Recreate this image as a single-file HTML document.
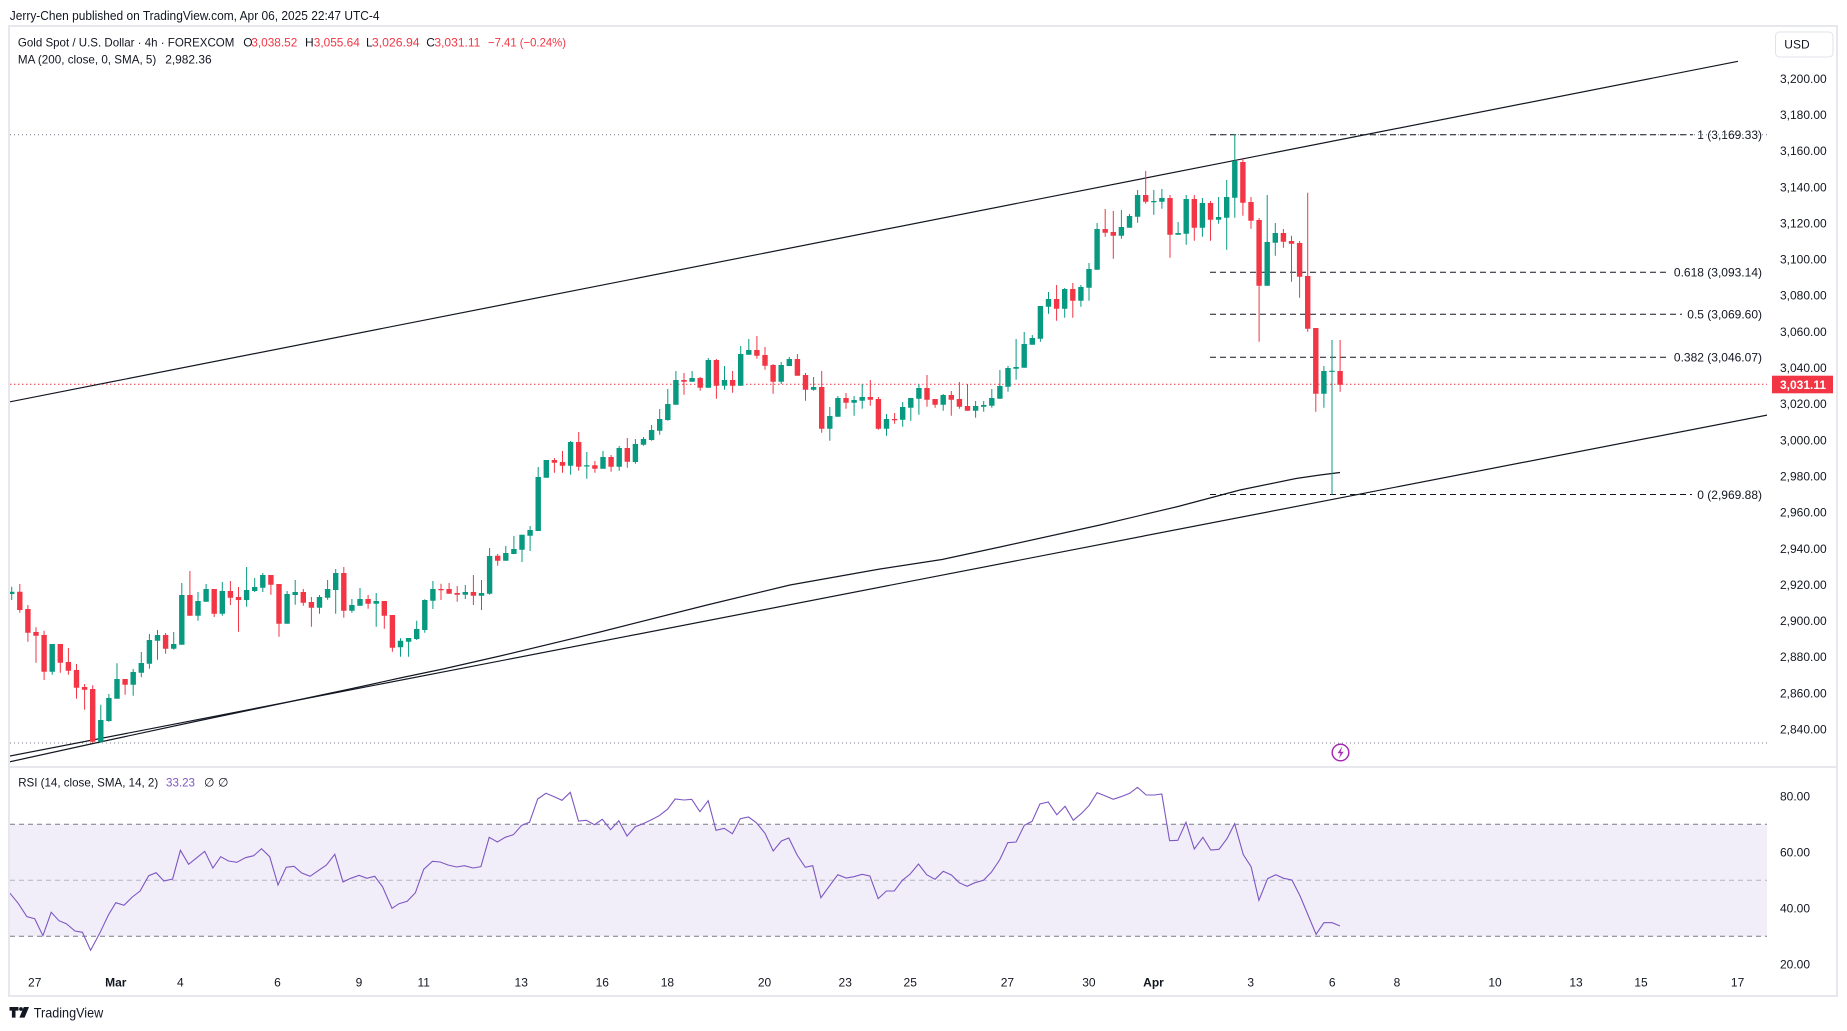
<!DOCTYPE html>
<html><head><meta charset="utf-8"><style>
html,body{margin:0;padding:0;background:#fff;}
svg{display:block;font-family:"Liberation Sans",sans-serif;}
text{fill:#131722;}
</style></head><body>
<svg width="1847" height="1031" viewBox="0 0 1847 1031" xmlns="http://www.w3.org/2000/svg">
<rect x="0" y="0" width="1847" height="1031" fill="#fff"/>
<defs><clipPath id="cp"><rect x="10" y="27" width="1757" height="740"/></clipPath>
<clipPath id="cr"><rect x="10" y="768" width="1757" height="200"/></clipPath></defs>

<text x="9.8" y="20" font-size="13" textLength="369.7" lengthAdjust="spacingAndGlyphs">Jerry-Chen published on TradingView.com, Apr 06, 2025 22:47 UTC-4</text>

<!-- panel borders -->
<rect x="9" y="26" width="1828" height="970" fill="none" stroke="#e6e8ed" stroke-width="2"/>
<line x1="9" y1="767" x2="1837" y2="767" stroke="#e6e8ed" stroke-width="2"/>

<!-- RSI band -->
<rect x="10" y="824.3" width="1757" height="112" fill="#7e57c2" fill-opacity="0.1"/>
<g stroke-width="1" fill="none">
<line x1="10" y1="824.3" x2="1767" y2="824.3" stroke="#787b86" stroke-dasharray="5 4"/>
<line x1="10" y1="880.3" x2="1767" y2="880.3" stroke="#787b86" stroke-opacity="0.5" stroke-dasharray="5 4"/>
<line x1="10" y1="936.3" x2="1767" y2="936.3" stroke="#787b86" stroke-dasharray="5 4"/>
</g>
<polyline clip-path="url(#cr)" fill="none" stroke="#7e57c2" stroke-width="1.1" points="9.5,892.7 18.2,903.3 26.9,916.7 34.7,918.7 42.9,935.7 51.2,912.3 59,920.7 66.3,923.7 75,931 82.4,932.3 90.6,950.3 99.7,933.3 108.4,915 115.8,902.7 124,905.3 132.3,897 140.1,891 148.7,875.7 156.1,872.7 163.9,881 172.6,879 180.4,850.3 188.6,864.3 197.3,857.3 204.7,851.3 212.9,868 220.7,856.7 228.5,861 236.8,862.3 245.4,857.7 253.7,855.7 261.5,848.7 269.7,856.7 278,885 286.2,867.3 294,866.3 301.8,873 310.1,876.3 318.7,870.3 326.5,865 334.8,854.3 343,882 350.8,878.3 359.1,875.3 366.9,878.3 374.7,876.3 382.5,886.7 392,908.3 399,903.7 407.2,901.3 415.4,892.7 423.7,869.3 432.4,861.3 440.2,862 448,865 456.6,867 464.4,865.7 473.1,868 480.9,866.7 489.2,837.3 497.4,842 505.2,837.3 513.4,834.7 521.7,825.3 529.5,822.3 537.7,799 546,793.3 554.2,796.7 562,800.3 570.3,792.3 578.5,821 586.3,820.3 594.5,824.7 602.3,819.3 610.6,829.7 618.8,820.7 627,836 635.3,826.7 643.1,823.7 650.9,820 659.2,815.7 667.4,809.3 675.2,799 683.9,800 691.7,799.3 699.9,811.7 708.2,800.7 716,830.3 724.2,828.3 732.4,833.7 740.3,818.7 748.5,817 756.3,822.7 765,833.3 773.2,851 781.4,841 788.8,838 797.1,855 805.3,867.3 812.7,865.7 820.9,897.7 829.2,886.3 837.8,874.7 846.1,878 853.9,876.7 862.1,874.3 869.9,876 878.2,898.7 886.4,891 894.2,891 902.4,880.3 910.2,874 918.5,864 926.7,874.7 935,879.3 943.2,871.3 951.4,875 959.2,882.7 967.1,886.3 974.9,882.7 983.5,880.3 991.3,872.3 999.6,860 1007.8,842.7 1016.1,842 1024.3,825.3 1032.1,821.3 1039.9,804 1048.2,802 1056.8,814.7 1065.1,806.3 1073.3,820.3 1081.1,813.7 1088.9,805.7 1097.1,792.7 1105,795.7 1113.2,799.3 1121,796.7 1129.7,793.3 1137.5,787.3 1146.2,795 1154.4,795 1161.8,794 1169.6,840.7 1177.8,840.3 1186,822.3 1194.3,849 1202.9,837.3 1210.8,850 1219,849.3 1227.2,838.3 1234.6,823.7 1243.3,854.7 1251.1,866.7 1258.9,900.3 1267.6,878.7 1275.8,874.7 1283.6,878.3 1291.9,880 1300.1,896 1316.1,934.3 1323.9,922.7 1332.2,922.7 1340,926"/>

<g clip-path="url(#cp)">
<!-- high/low dotted lines -->
<line x1="10" y1="134.7" x2="1767" y2="134.7" stroke="#787b86" stroke-width="1" stroke-dasharray="1 3"/>
<line x1="10" y1="743" x2="1767" y2="743" stroke="#787b86" stroke-width="1" stroke-dasharray="1 3"/>
<!-- current price line -->
<line x1="10" y1="384.3" x2="1767" y2="384.3" stroke="#f23645" stroke-width="1" stroke-dasharray="1.5 2.5"/>
<!-- fib levels -->
<g stroke="#131722" stroke-width="1" stroke-dasharray="6 4">
<line x1="1210" y1="134.7" x2="1693" y2="134.7"/>
<line x1="1210" y1="272.3" x2="1670" y2="272.3"/>
<line x1="1210" y1="314.3" x2="1682" y2="314.3"/>
<line x1="1210" y1="357.3" x2="1670" y2="357.3"/>
<line x1="1210" y1="494.5" x2="1692" y2="494.5"/>
</g>
<!-- channel lines -->
<line x1="9" y1="402" x2="1738" y2="61.3" stroke="#131722" stroke-width="1.2"/>
<line x1="9" y1="756.2" x2="1769" y2="414.7" stroke="#131722" stroke-width="1.2"/>
<!-- MA200 -->
<polyline fill="none" stroke="#131722" stroke-width="1.2" points="9,762 100,742 200,720.5 267,706.5 350,689 400,678 443,669 500,656 600,632 707,605 790,585 880,569 942,559.5 1000,547 1100,525 1178,506.5 1240,490 1296,478.5 1320,475 1340,472.5"/>

<!-- candles -->
<path fill="none" stroke="#089981" stroke-width="1" d="M11.7 586.7V600M52.2 644V674.7M100.8 704.7V742.7M108.9 694V721.7M117 663.3V698.7M133.2 669V695.7M141.3 652V677.3M149.4 634V668.7M157.5 630V659.7M173.7 632V649.7M181.8 583V644.7M198 592V620.7M206.1 584V601.7M222.3 582V615.7M246.6 567V606.7M254.7 578V592M262.8 573V592M287.1 591V623.7M295.2 580V604.7M319.5 595V613.7M327.6 580V599.7M335.7 569V613.7M351.9 599V612.7M360 588V605.7M376.2 593V626.7M400.5 638.3V656.7M408.6 638V656.7M416.7 620.7V640M424.8 599.3V632.7M432.9 581V609M465.3 585V599M481.5 580V610M489.6 548V594.7M505.8 546V560.7M513.9 536V554M522 534.7V562M530.1 526V551M538.2 467V531M546.3 460V477.7M570.6 441V474.7M586.8 452V478.7M603 451V468.7M619.2 446V470.7M635.4 439V463.7M643.5 437V445.7M651.6 425V440.7M659.7 409V434.7M667.8 389V420.7M675.9 371V404.7M692.1 371V381.7M708.3 358V387.7M724.5 366V389.7M740.7 346V385.7M748.8 339V354.7M781.2 362V384M789.3 357V366M813.6 377V390.7M829.8 407V440.7M837.9 396V416.7M854.1 396V415.7M862.2 384V408.7M886.5 414V435.7M902.7 402V426.7M910.8 398V420.7M918.9 384V414.7M943.2 394V410.7M975.6 401V417.7M983.7 401V411.7M991.8 389V407.7M999.9 370V398.7M1008 366V391.7M1016.1 339V379.7M1024.2 332V367.7M1032.3 335V344.7M1040.4 306V341.7M1048.5 292V313.7M1064.7 288V317.7M1080.9 285V306.7M1089 263V300.7M1097.1 223V269.7M1121.4 210V238.7M1129.5 214V227.7M1137.6 190V222.7M1153.8 190V214.7M1161.9 189V208.7M1178.1 222V234.7M1186.2 195V244.7M1202.4 198V236.7M1218.6 197V223.7M1226.7 180V249.7M1234.8 134.5V217.7M1267.2 195V285.7M1275.3 223V255.7M1323.9 366V407.7M1332 340V494.5"/>
<path fill="none" stroke="#089981" stroke-width="5.4" d="M11.7 591.7V594M52.2 644V671.7M100.8 720V741.7M108.9 698V721M117 679V698.7M133.2 672V684.7M141.3 663V672.7M149.4 640V663.7M157.5 635V640.7M173.7 644V648.7M181.8 595V644.7M198 601V615.7M206.1 589V601.7M222.3 591V613.7M246.6 590V600M254.7 587V591M262.8 575V587.7M287.1 594V623.7M295.2 592V595M319.5 597V607.7M327.6 589V597.7M335.7 573V590M351.9 605V610.7M360 599V605.7M376.2 601V603.7M400.5 640.7V647.3M408.6 638V641.7M416.7 629V639M424.8 600V630M432.9 589V600.7M465.3 592V594.7M481.5 593V595.7M489.6 556V593.7M505.8 553V560.7M513.9 549V554M522 534.7V549.7M530.1 530V535.7M538.2 477V531M546.3 460V477.7M570.6 442V465.7M586.8 465.3V466.5M603 457V468.7M619.2 448V466.7M635.4 444V462M643.5 439V444.7M651.6 430V440M659.7 419V430.7M667.8 404V420M675.9 380V404.7M692.1 378V381.7M708.3 360V387.7M724.5 380V385.7M740.7 354V385.7M748.8 350V354.7M781.2 365V381.7M789.3 359V366M813.6 387V389.7M829.8 416V428.7M837.9 398V416.7M854.1 400V402.7M862.2 397V400.7M886.5 419V428.7M902.7 407V419.7M910.8 398V407.7M918.9 388V398.7M943.2 395V404.7M975.6 406V410.7M983.7 405V406.7M991.8 398V405.7M999.9 386V398.7M1008 368V386.7M1016.1 367V368.7M1024.2 344V367.7M1032.3 338V344.7M1040.4 306V338.7M1048.5 299V306.7M1064.7 289V308.7M1080.9 287V300.7M1089 269V287.7M1097.1 229V269.7M1121.4 227V235.7M1129.5 216V227.7M1137.6 195V216.7M1153.8 201V202.2M1161.9 198V201.7M1178.1 233V234.7M1186.2 199V233.7M1202.4 203V227.7M1218.6 217V219.7M1226.7 197V217.7M1234.8 161V197.7M1267.2 242V285.7M1275.3 233V242.7M1323.9 371V393.7M1332 370.7V371.9"/>
<path fill="none" stroke="#f23645" stroke-width="1" d="M19.8 584V612.7M27.9 605V641.7M36 627.3V662.7M44.1 630.7V680M60.3 644V672.7M68.4 648V674.7M76.5 664V698.7M84.6 684V709.7M92.7 685.3V743M125.1 679V694.7M165.6 633V653.7M189.9 571V615.7M214.2 589V617M230.4 581V605M238.5 587V631.7M270.9 575V594.7M279 584V636.7M303.3 589V605.7M311.4 597V626.7M343.8 567V617.7M368.1 595V608.7M384.3 601V628.7M392.4 615V651.7M441 583.7V600M449.1 583V593.7M457.2 586V601.7M473.4 575V605M497.7 554V565.7M554.4 458V472.7M562.5 451V472.7M578.7 432V470.7M594.9 461V472.7M611.1 455V471.7M627.3 438V467.7M684 373V394.7M700.2 377V390.7M716.4 359V398.7M732.6 371V392.7M756.9 336V358.7M765 347V369.7M773.1 364V393.7M797.4 354V375.7M805.5 373V400.7M821.7 371V432.7M846 393V408.7M870.3 380V405.7M878.4 397V429.7M894.6 413V423.7M927 375V406.7M935.1 399V407.7M951.3 391V415.7M959.4 382V408.7M967.5 384V410.7M1056.6 285V320.7M1072.8 283V317.7M1105.2 209V236.7M1113.3 211V258.7M1145.7 171V203.7M1170 195V257.7M1194.3 195V240.7M1210.5 201V240.7M1242.9 159V215.7M1251 197V228.7M1259.1 218V341.7M1283.4 229V247.7M1291.5 235.7V281.7M1299.6 241V297.7M1307.7 192.7V331.7M1315.8 328V411.7M1340.1 340V391.7"/>
<path fill="none" stroke="#f23645" stroke-width="5.4" d="M19.8 591.7V610M27.9 609V632.7M36 632V635.7M44.1 635V671.7M60.3 644V662.7M68.4 662V670.7M76.5 670V687.7M84.6 687V689.7M92.7 689V741.7M125.1 679V684.7M165.6 635V648.7M189.9 595V615.7M214.2 589V613.7M230.4 591V597.7M238.5 597V600M270.9 575V584.7M279 584V623.7M303.3 592V602.7M311.4 602V607.7M343.8 573V610.7M368.1 599V603.7M384.3 601V615.7M392.4 615V647.7M441 589V590.2M449.1 589V593.7M457.2 593V594.7M473.4 592V595.7M497.7 555.7V560.7M554.4 460V462.7M562.5 462V465.7M578.7 442V466.7M594.9 465.3V468.7M611.1 457V466.7M627.3 448V461.7M684 380V381.7M700.2 378V387.7M716.4 360V385.7M732.6 380V385.7M756.9 350V355.7M765 355V365.7M773.1 365V381.7M797.4 359V375.7M805.5 375V389.7M821.7 387V428.7M846 398V402.7M870.3 397V399.7M878.4 399V428.7M894.6 419V420.2M927 388V399.7M935.1 399V404.7M951.3 395V399.7M959.4 399V406.7M967.5 406V410.7M1056.6 299V308.7M1072.8 289V300.7M1105.2 229V232.7M1113.3 232V235.7M1145.7 195V201.7M1170 198V234.7M1194.3 199V227.7M1210.5 203V219.7M1242.9 162V202.7M1251 202V220.7M1259.1 220V285.7M1283.4 233V241.7M1291.5 241V243.7M1299.6 243V276.7M1307.7 276V328.7M1315.8 328V393.7M1340.1 371V384.7"/>
</g>

<!-- fib labels -->
<g font-size="12">
<text x="1762" y="139" text-anchor="end">1 (3,169.33)</text>
<text x="1762" y="276.6" text-anchor="end">0.618 (3,093.14)</text>
<text x="1762" y="318.6" text-anchor="end">0.5 (3,069.60)</text>
<text x="1762" y="361.6" text-anchor="end">0.382 (3,046.07)</text>
<text x="1762" y="498.8" text-anchor="end">0 (2,969.88)</text>
</g>

<!-- lightning icon -->
<circle cx="1340.5" cy="752.5" r="8.3" fill="#fff" stroke="#a72bb5" stroke-width="1.5"/>
<path d="M1342.3 746.3L1337.6 753.3H1340.6L1338.8 758.8L1343.6 751.7H1340.6Z" fill="#a72bb5"/>

<!-- legend -->
<g font-size="12">
<text x="17.9" y="46.6" textLength="216.5" lengthAdjust="spacingAndGlyphs">Gold Spot / U.S. Dollar · 4h · FOREXCOM</text>
<text x="243.3" y="46.6">O</text>
<text x="251.3" y="46.6" textLength="46" lengthAdjust="spacingAndGlyphs" style="fill:#f23645">3,038.52</text>
<text x="305" y="46.6">H</text>
<text x="313.8" y="46.6" textLength="46" lengthAdjust="spacingAndGlyphs" style="fill:#f23645">3,055.64</text>
<text x="366" y="46.6">L</text>
<text x="371.9" y="46.6" textLength="47.7" lengthAdjust="spacingAndGlyphs" style="fill:#f23645">3,026.94</text>
<text x="426.3" y="46.6">C</text>
<text x="434.4" y="46.6" textLength="46" lengthAdjust="spacingAndGlyphs" style="fill:#f23645">3,031.11</text>
<text x="488" y="46.6" textLength="78" lengthAdjust="spacingAndGlyphs" style="fill:#f23645">−7.41 (−0.24%)</text>
<text x="17.9" y="63.6" textLength="138.4" lengthAdjust="spacingAndGlyphs">MA (200, close, 0, SMA, 5)</text>
<text x="165.2" y="63.6" textLength="46.4" lengthAdjust="spacingAndGlyphs">2,982.36</text>
<text x="18.2" y="786.6" textLength="140" lengthAdjust="spacingAndGlyphs">RSI (14, close, SMA, 14, 2)</text>
<text x="166" y="786.6" textLength="29" lengthAdjust="spacingAndGlyphs" style="fill:#7e57c2">33.23</text>
<text x="204" y="786.6">∅</text>
<text x="218" y="786.6">∅</text>
</g>

<!-- USD -->
<rect x="1775.5" y="32" width="57.5" height="25" rx="4" fill="#fff" stroke="#e0e3eb" stroke-width="1"/>
<text x="1784.3" y="48.6" font-size="12">USD</text>

<!-- price axis -->
<g font-size="12">
<text x="1780" y="82.8">3,200.00</text>
<text x="1780" y="119">3,180.00</text>
<text x="1780" y="155.1">3,160.00</text>
<text x="1780" y="191.3">3,140.00</text>
<text x="1780" y="227.4">3,120.00</text>
<text x="1780" y="263.6">3,100.00</text>
<text x="1780" y="299.7">3,080.00</text>
<text x="1780" y="335.9">3,060.00</text>
<text x="1780" y="372">3,040.00</text>
<text x="1780" y="408.2">3,020.00</text>
<text x="1780" y="444.3">3,000.00</text>
<text x="1780" y="480.5">2,980.00</text>
<text x="1780" y="516.6">2,960.00</text>
<text x="1780" y="552.8">2,940.00</text>
<text x="1780" y="588.9">2,920.00</text>
<text x="1780" y="625.1">2,900.00</text>
<text x="1780" y="661.2">2,880.00</text>
<text x="1780" y="697.4">2,860.00</text>
<text x="1780" y="733.5">2,840.00</text>
<text x="1780" y="800.6">80.00</text>
<text x="1780" y="856.6">60.00</text>
<text x="1780" y="912.6">40.00</text>
<text x="1780" y="968.6">20.00</text>
</g>
<rect x="1772" y="375.7" width="61" height="17.6" fill="#f23645"/>
<text x="1780" y="388.8" font-size="12" font-weight="bold" style="fill:#fff">3,031.11</text>

<!-- time axis -->
<g font-size="12" text-anchor="middle">
<text x="34.7" y="986.3">27</text>
<text x="115.8" y="986.3" font-weight="bold">Mar</text>
<text x="180.4" y="986.3">4</text>
<text x="277.5" y="986.3">6</text>
<text x="359" y="986.3">9</text>
<text x="423.7" y="986.3">11</text>
<text x="521.2" y="986.3">13</text>
<text x="602.3" y="986.3">16</text>
<text x="667.4" y="986.3">18</text>
<text x="764.5" y="986.3">20</text>
<text x="845.2" y="986.3">23</text>
<text x="910.2" y="986.3">25</text>
<text x="1007.4" y="986.3">27</text>
<text x="1088.9" y="986.3">30</text>
<text x="1153.5" y="986.3" font-weight="bold">Apr</text>
<text x="1250.7" y="986.3">3</text>
<text x="1332.2" y="986.3">6</text>
<text x="1397" y="986.3">8</text>
<text x="1495" y="986.3">10</text>
<text x="1576" y="986.3">13</text>
<text x="1641" y="986.3">15</text>
<text x="1737.6" y="986.3">17</text>
</g>

<!-- TradingView logo -->
<path d="M9.5 1007h9v3.6h-3v7h-3.6v-7h-2.4z" fill="#131722"/>
<circle cx="21" cy="1009" r="1.9" fill="#131722"/>
<path d="M23.8 1007h5.2l-4.4 10.6h-5.2z" fill="#131722"/>
<text x="33.8" y="1017.7" font-size="14" textLength="69.4" lengthAdjust="spacingAndGlyphs">TradingView</text>
</svg>
</body></html>
